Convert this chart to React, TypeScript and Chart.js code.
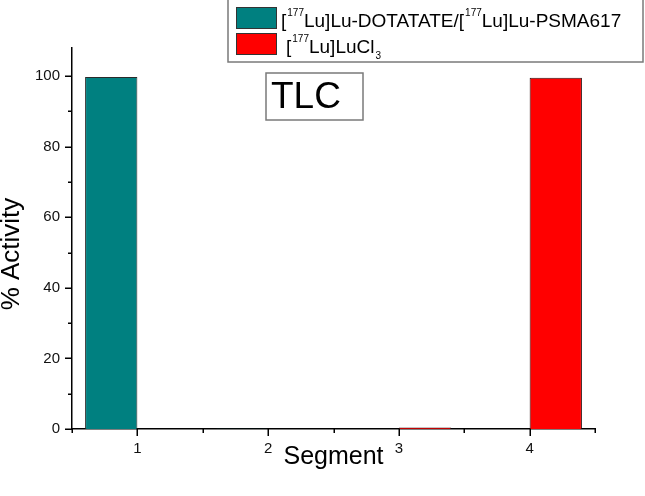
import React, { useEffect, useRef } from 'react';
import { Chart, registerables } from 'chart.js';

Chart.register(...registerables);

// ---- data ----
const segments = ['1', '2', '3', '4'];
const dotatatePsmaValues = [99.8, 0.1, 0, 0];
const luCl3Values = [0, 0, 0.45, 99.6];
const yMajorTicks = [0, 20, 40, 60, 80, 100];
const yMinorTicks = [10, 30, 50, 70, 90];
const seriesNames = ['[177Lu]Lu-DOTATATE/[177Lu]Lu-PSMA617', '[177Lu]LuCl3'];
// rich-text pieces for the legend (n = normal, sup = superscript, sub = subscript)
const legendRich = [
  [
    { t: '[', k: 'n' }, { t: '177', k: 'sup' }, { t: 'Lu]Lu-DOTATATE/[', k: 'n' },
    { t: '177', k: 'sup' }, { t: 'Lu]Lu-PSMA617', k: 'n' },
  ],
  [
    { t: '[', k: 'n' }, { t: '177', k: 'sup' }, { t: 'Lu]LuCl', k: 'n' }, { t: '3', k: 'sub' },
  ],
];
const panelLabel = 'TLC';
const xTitle = 'Segment';
const yTitle = '% Activity';

const TEAL = '#008080';
const RED = '#ff0000';
const FONT = "'Liberation Sans', Arial, sans-serif";

function drawRich(ctx: CanvasRenderingContext2D, parts: any[], x: number, baseline: number) {
  let cx = x;
  for (const p of parts) {
    if (p.k === 'n') {
      ctx.font = `19px ${FONT}`;
      ctx.fillText(p.t, cx, baseline);
      cx += ctx.measureText(p.t).width;
    } else if (p.k === 'sup') {
      ctx.font = `10px ${FONT}`;
      ctx.fillText(p.t, cx + 1, baseline - 11);
      cx += ctx.measureText(p.t).width + 1;
    } else {
      ctx.font = `10px ${FONT}`;
      ctx.fillText(p.t, cx + 1, baseline + 6);
      cx += ctx.measureText(p.t).width + 1;
    }
  }
}

const decorPlugin = {
  id: 'decor',
  afterDraw(chart: any) {
    const { ctx, scales } = chart;
    const x = scales.x;
    const y = scales.y;
    const left = chart.chartArea.left;
    const bottom = chart.chartArea.bottom;
    ctx.save();
    ctx.strokeStyle = '#000';
    ctx.lineWidth = 1.5;
    ctx.beginPath();
    for (const v of yMajorTicks) {
      const py = Math.round(y.getPixelForValue(v)) + 0.25;
      ctx.moveTo(left - 7, py);
      ctx.lineTo(left, py);
    }
    for (const v of yMinorTicks) {
      const py = Math.round(y.getPixelForValue(v)) + 0.25;
      ctx.moveTo(left - 4, py);
      ctx.lineTo(left, py);
    }
    for (let i = 0; i < segments.length; i++) {
      const px = Math.round(x.getPixelForValue(i)) + 0.25;
      ctx.moveTo(px, bottom);
      ctx.lineTo(px, bottom + 7);
    }
    for (let i = 0; i <= segments.length; i++) {
      const px = Math.round(x.getPixelForValue(i - 0.5)) + 0.25;
      ctx.moveTo(px, bottom);
      ctx.lineTo(px, bottom + 4);
    }
    ctx.stroke();

    // y axis title (sits a little below the axis centre, as in the source)
    ctx.save();
    ctx.translate(12, 254);
    ctx.rotate(-Math.PI / 2);
    ctx.fillStyle = '#000';
    ctx.font = `26px ${FONT}`;
    ctx.textAlign = 'center';
    ctx.textBaseline = 'middle';
    ctx.fillText(yTitle, 0, 0);
    ctx.restore();

    // legend box
    ctx.fillStyle = '#fff';
    ctx.strokeStyle = '#7a7a7a';
    ctx.lineWidth = 1.5;
    ctx.fillRect(228, -2, 415, 64);
    ctx.strokeRect(228, -2, 415, 64);
    const colors = [TEAL, RED];
    const swatchTop = [7, 33];
    const baselines = [27, 53];
    const textX = [281, 286];
    for (let i = 0; i < 2; i++) {
      ctx.fillStyle = colors[i];
      ctx.fillRect(236, swatchTop[i], 40, 21);
      ctx.strokeStyle = '#333';
      ctx.lineWidth = 1;
      ctx.strokeRect(236.5, swatchTop[i] + 0.5, 40, 21);
      ctx.fillStyle = '#000';
      ctx.textBaseline = 'alphabetic';
      ctx.textAlign = 'left';
      drawRich(ctx, legendRich[i], textX[i], baselines[i]);
    }

    // TLC label box
    ctx.fillStyle = '#fff';
    ctx.fillRect(266, 73, 97, 47);
    ctx.strokeStyle = '#7a7a7a';
    ctx.lineWidth = 1.5;
    ctx.strokeRect(266, 73, 97, 47);
    ctx.fillStyle = '#000';
    ctx.font = `37px ${FONT}`;
    ctx.textAlign = 'left';
    ctx.textBaseline = 'alphabetic';
    ctx.fillText(panelLabel, 271, 108);
    ctx.restore();
  },
};

export default function App() {
  const canvasRef = useRef<HTMLCanvasElement | null>(null);

  useEffect(() => {
    const canvas = canvasRef.current;
    if (!canvas) return;
    Chart.defaults.font.family = FONT;
    const chart = new Chart(canvas, {
      type: 'bar',
      data: {
        labels: segments,
        datasets: [
          {
            label: seriesNames[0],
            data: dotatatePsmaValues,
            backgroundColor: TEAL,
            borderColor: '#2a2a2a',
            borderWidth: 1,
            barPercentage: 1,
            categoryPercentage: 0.8,
          },
          {
            label: seriesNames[1],
            data: luCl3Values,
            backgroundColor: RED,
            borderColor: '#2a1010',
            borderWidth: 1,
            barPercentage: 1,
            categoryPercentage: 0.8,
          },
        ],
      },
      options: {
        animation: false,
        responsive: false,
        devicePixelRatio: 1,
        layout: { padding: { top: 48, right: 50, left: 0, bottom: 0 } },
        plugins: {
          legend: { display: false },
          tooltip: { enabled: false },
          title: { display: false },
        },
        scales: {
          x: {
            type: 'category',
            offset: true,
            grid: { display: false, drawTicks: false },
            border: { display: true, color: '#000', width: 1.5 },
            ticks: { color: '#111', font: { size: 15 }, padding: 11, maxRotation: 0 },
            title: {
              display: true,
              text: xTitle,
              color: '#000',
              font: { size: 25, lineHeight: 1 },
              padding: { top: 0, bottom: 26 },
            },
            afterFit: (s: any) => { s.height = 67; },
          },
          y: {
            type: 'linear',
            min: 0,
            max: 108,
            grid: { display: false, drawTicks: false },
            border: { display: true, color: '#000', width: 1.5 },
            ticks: {
              stepSize: 20,
              includeBounds: false,
              color: '#111',
              font: { size: 15 },
              padding: 12,
            },
            title: { display: false },
            afterFit: (s: any) => { s.width = 72; },
          },
        },
      },
      plugins: [decorPlugin],
    });
    return () => chart.destroy();
  }, []);

  return (
    <div style={{ position: 'absolute', left: 0, top: 0, width: 645, height: 496, background: '#fff' }}>
      <canvas ref={canvasRef} width={645} height={496} style={{ display: 'block' }} />
    </div>
  );
}
